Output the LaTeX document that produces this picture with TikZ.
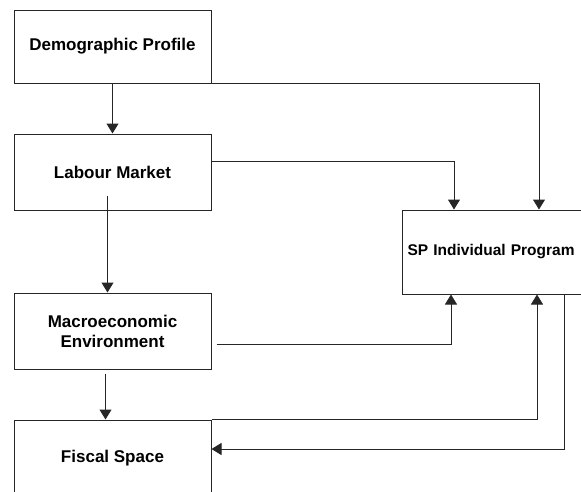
\documentclass[tikz,border=0pt]{standalone}
\usepackage{fontspec}
\setmainfont{Liberation Sans}
\usetikzlibrary{arrows.meta}

\begin{document}
\begin{tikzpicture}[x=1pt, y=-1pt,
    box/.style={draw=black!85, line width=1pt, minimum width=197pt, minimum height=76pt,
        inner sep=0pt, align=center, font=\fontsize{17}{20}\selectfont\bfseries},
    link/.style={draw=black!85, line width=1pt, -{Triangle[width=12pt, length=10pt]}}]

    \useasboundingbox (0, 0) rectangle (581, 491);
    \clip (0, 0) rectangle (581, 491);

    %% Boxes

    % Left column
    \node [box, minimum height=73pt] (demo) at (112.5, 46.5) {Demographic Profile};
    \node [box] (labour) at (112.5, 172) {Labour Market};
    \node [box] (macro) at (112.5, 331) {Macroeconomic\\Environment};
    \node [box] (fiscal) at (112.5, 458) {Fiscal Space};

    % Programme box, runs off the right edge
    \node [box, anchor=west, minimum height=84pt, text width=206pt, inner xsep=5pt, align=left,
        font=\fontsize{15.5}{20}\selectfont\bfseries]
        (sp) at (402, 252) {SP Individual Program};

    %% Links

    % Down the left column
    \draw [link] (demo.south) -- (labour.north);
    \draw [link] ([xshift=-5pt, yshift=15pt]labour.south) -- ([xshift=-5pt]macro.north);
    \draw [link, shorten <=4pt] ([xshift=-7pt]macro.south) -- ([xshift=-7pt]fiscal.north);

    % Into the programme box from above
    \draw [link] (demo.south east) -| ([xshift=137pt]sp.north west);
    \draw [link] ([yshift=11pt]labour.east) -| ([xshift=52pt]sp.north west);

    % Into the programme box from below
    \draw [link, shorten <=5pt] ([yshift=-13pt]macro.east) -| ([xshift=49pt]sp.south west);
    \draw [link] (fiscal.north east) -| ([xshift=135pt]sp.south west);

    % Back to fiscal space
    \draw [link] ([xshift=162pt]sp.south west) |- ([yshift=9pt]fiscal.east);

\end{tikzpicture}
\end{document}
